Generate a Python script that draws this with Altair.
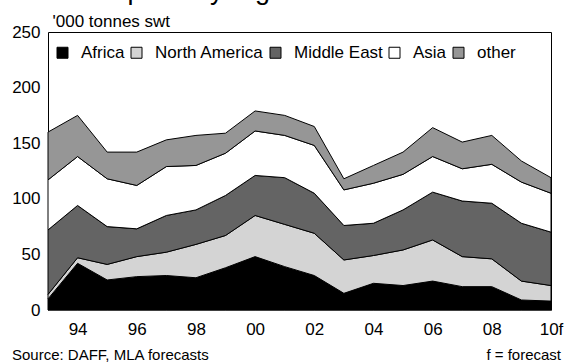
import altair as alt
import pandas as pd

# Export volumes by destination ('000 tonnes shipped weight), 1993 to 2010 forecast
years = list(range(1993, 2011))
regions = ["Africa", "North America", "Middle East", "Asia", "other"]
africa = [10, 42, 27, 30, 31, 29, 38, 48, 39, 31, 15, 24, 22, 26, 21, 21, 9, 8]
north_america = [4, 5, 14, 18, 21, 30, 29, 37, 38, 38, 30, 25, 32, 37, 27, 25, 17, 14]
middle_east = [58, 47, 34, 25, 33, 31, 36, 36, 42, 36, 31, 29, 36, 43, 50, 50, 52, 48]
asia = [45, 44, 43, 39, 44, 40, 38, 40, 38, 43, 32, 36, 32, 32, 29, 35, 37, 35]
other = [43, 37, 24, 30, 24, 27, 18, 18, 18, 17, 10, 16, 20, 26, 24, 26, 19, 14]
series = [africa, north_america, middle_east, asia, other]
fills = ["#000000", "#d4d4d4", "#646464", "#ffffff", "#969696"]

x_ticks = list(range(1994, 2011, 2))
y_ticks = [0, 50, 100, 150, 200, 250]

title_text = "Mutton exports by region"
unit_text = "'000 tonnes swt"
source_text = "Source: DAFF, MLA forecasts"
note_text = "f = forecast"

rows = []
for rank, (name, vals) in enumerate(zip(regions, series)):
    for yr, v in zip(years, vals):
        rows.append({"year": yr, "region": name, "value": v, "rank": rank})
df = pd.DataFrame(rows)

FONT = "Liberation Sans"
W, H = 503, 278

areas = alt.Chart(df).mark_area(
    stroke="black", strokeWidth=1, interpolate="linear"
).encode(
    x=alt.X(
        "year:Q",
        scale=alt.Scale(domain=[1993, 2010], nice=False, zero=False),
        axis=alt.Axis(
            values=x_ticks,
            labelExpr="datum.value == 2010 ? '10f' : slice(toString(datum.value), 2)",
            title=None, grid=False, ticks=False, tickSize=0,
            labelPadding=11, labelFont=FONT, labelFontSize=17,
            labelColor="black", labelFlush=False, labelOverlap=False,
            domainColor="#808080", domainWidth=1,
        ),
    ),
    y=alt.Y(
        "value:Q",
        stack="zero",
        scale=alt.Scale(domain=[0, 250], nice=False),
        axis=alt.Axis(
            values=y_ticks,
            title=unit_text, titleAngle=0, titleAlign="left",
            titleBaseline="alphabetic", titleX=4, titleY=-6,
            titleFont=FONT, titleFontSize=17, titleFontWeight="normal",
            titleColor="black",
            grid=False, ticks=False, tickSize=0, domain=False,
            labelPadding=8, labelFont=FONT, labelFontSize=17,
            labelColor="black",
        ),
    ),
    color=alt.Color(
        "region:N",
        scale=alt.Scale(domain=regions, range=fills),
        legend=alt.Legend(
            title=None, orient="none", legendX=6, legendY=12,
            direction="horizontal", symbolType="square", symbolSize=121,
            symbolStrokeColor="black", symbolStrokeWidth=1, symbolOpacity=1,
            labelFont=FONT, labelFontSize=17, labelColor="black",
            labelOffset=10, columnPadding=3, padding=0, labelLimit=300,
        ),
    ),
    order=alt.Order("rank:Q", sort="ascending"),
)

title = alt.Chart(pd.DataFrame({"t": [title_text]})).mark_text(
    align="left", baseline="alphabetic", font=FONT, fontSize=27, color="black"
).encode(text="t:N", x=alt.value(-39), y=alt.value(-33))

source = alt.Chart(pd.DataFrame({"t": [source_text]})).mark_text(
    align="left", baseline="alphabetic", font=FONT, fontSize=15, color="black"
).encode(text="t:N", x=alt.value(-36), y=alt.value(328))

note = alt.Chart(pd.DataFrame({"t": [note_text]})).mark_text(
    align="right", baseline="alphabetic", font=FONT, fontSize=15, color="black"
).encode(text="t:N", x=alt.value(513), y=alt.value(328))

chart = alt.layer(areas, title, source, note).properties(
    width=W,
    height=H,
    autosize=alt.AutoSizeParams(type="none"),
    padding={"left": 48, "top": 32, "right": 14, "bottom": 52},
    background="white",
).configure_view(stroke="black", strokeWidth=1)

chart.save("out.html", embed_options={"renderer": "svg", "actions": False})
